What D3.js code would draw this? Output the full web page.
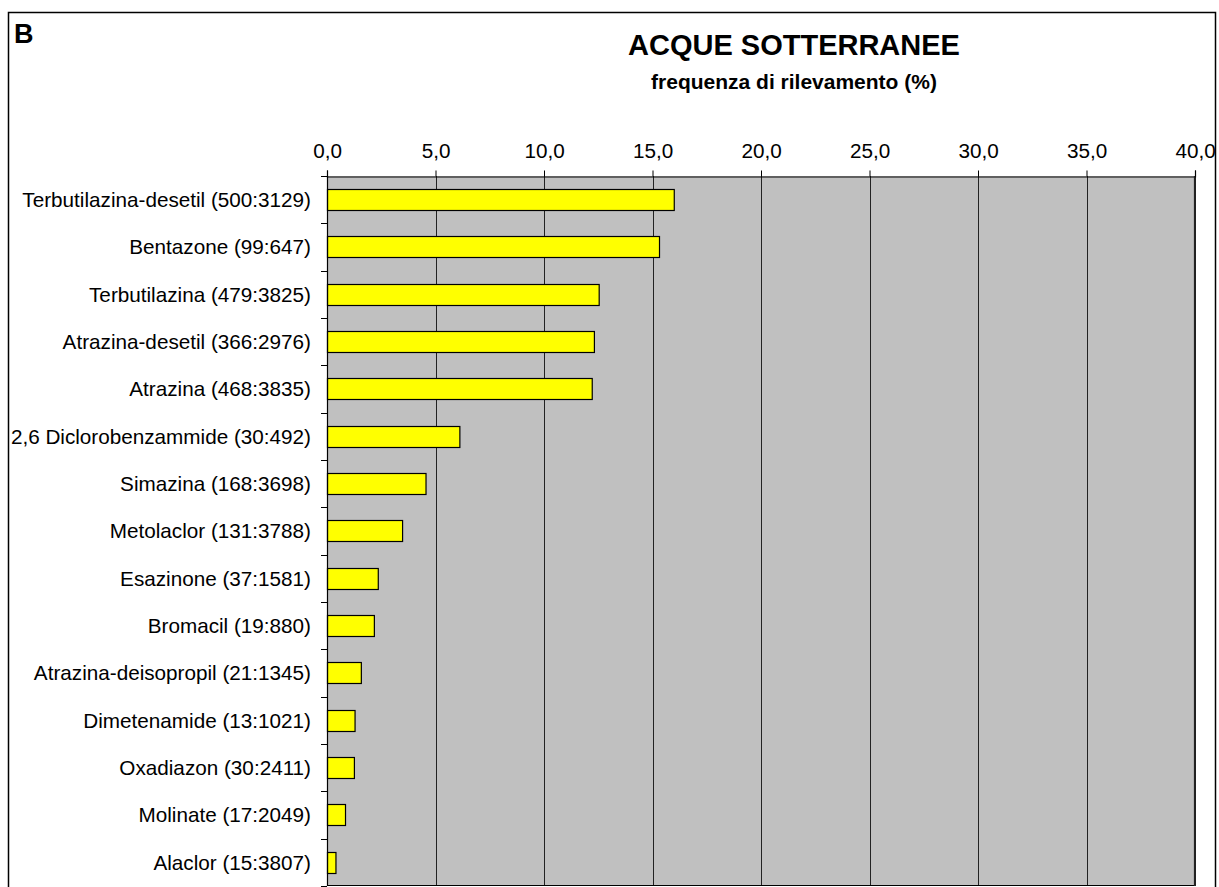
<!DOCTYPE html>
<html>
<head>
<meta charset="utf-8">
<script src="https://cdn.jsdelivr.net/npm/d3@7"></script>
<style>
  body { margin: 0; background: #fff; }
  svg text { font-family: Arial, "Liberation Sans", sans-serif; }
</style>
</head>
<body>
<div id="chart"></div>
<script>
var width = 1219,
    height = 887;

// categories and detection frequency (%)
var substances = [
  "Terbutilazina-desetil (500:3129)",
  "Bentazone (99:647)",
  "Terbutilazina (479:3825)",
  "Atrazina-desetil (366:2976)",
  "Atrazina (468:3835)",
  "2,6 Diclorobenzammide (30:492)",
  "Simazina (168:3698)",
  "Metolaclor (131:3788)",
  "Esazinone (37:1581)",
  "Bromacil (19:880)",
  "Atrazina-deisopropil (21:1345)",
  "Dimetenamide (13:1021)",
  "Oxadiazon (30:2411)",
  "Molinate (17:2049)",
  "Alaclor (15:3807)"
];
var frequency = [15.98, 15.30, 12.52, 12.30, 12.20, 6.10, 4.54, 3.46, 2.34, 2.16, 1.56, 1.27, 1.24, 0.83, 0.39];
var tickValues = [0, 5, 10, 15, 20, 25, 30, 35, 40];

var plot = {left: 327, right: 1195, top: 176, bottom: 886};

var svg = d3.select("#chart").append("svg")
    .attr("width", width)
    .attr("height", height);

// outer frame
svg.append("rect")
    .attr("x", 8.5).attr("y", 12.5)
    .attr("width", 1207).attr("height", 900)
    .attr("fill", "none")
    .attr("stroke", "#000")
    .attr("stroke-width", 1.5);

svg.append("text")
    .attr("x", 14).attr("y", 43)
    .style("font-size", "27px").style("font-weight", "bold")
    .text("B");

svg.append("text")
    .attr("x", 794).attr("y", 55)
    .attr("text-anchor", "middle")
    .style("font-size", "29px").style("font-weight", "bold")
    .text("ACQUE SOTTERRANEE");

svg.append("text")
    .attr("x", 794).attr("y", 89)
    .attr("text-anchor", "middle")
    .style("font-size", "21px").style("font-weight", "bold")
    .text("frequenza di rilevamento (%)");

var x = d3.scaleLinear()
    .domain([0, 40])
    .range([plot.left, plot.right]);

var y = d3.scaleBand()
    .domain(substances)
    .range([plot.top, plot.bottom])
    .paddingInner(0.556)
    .paddingOuter(0.278);

var data = substances.map(function(s, i) { return {name: s, value: frequency[i]}; });

// plot background
svg.append("rect")
    .attr("x", plot.left).attr("y", plot.top)
    .attr("width", plot.right - plot.left)
    .attr("height", plot.bottom - plot.top)
    .attr("fill", "#c0c0c0");

// vertical gridlines
svg.append("g")
    .selectAll("line")
    .data(tickValues)
    .enter().append("line")
    .attr("x1", function(d) { return Math.round(x(d)) + 0.5; })
    .attr("x2", function(d) { return Math.round(x(d)) + 0.5; })
    .attr("y1", plot.top)
    .attr("y2", plot.bottom)
    .attr("stroke", "#222")
    .attr("stroke-width", 1);

// bars
svg.append("g")
    .selectAll("rect")
    .data(data)
    .enter().append("rect")
    .attr("x", x(0) + 0.5)
    .attr("y", function(d) { return Math.round(y(d.name)) + 0.5; })
    .attr("width", function(d) { return x(d.value) - x(0); })
    .attr("height", Math.round(y.bandwidth()))
    .attr("fill", "#ffff00")
    .attr("stroke", "#000")
    .attr("stroke-width", 1.2);

// top axis
var xAxis = d3.axisTop(x)
    .tickValues(tickValues)
    .tickSize(6)
    .tickFormat(function(d) { return d3.format(".1f")(d).replace(".", ","); });

var gx = svg.append("g")
    .attr("transform", "translate(0," + (plot.top + 0.5) + ")")
    .call(xAxis);
gx.select(".domain").attr("stroke", "#000").attr("stroke-width", 1.2);
gx.selectAll(".tick line").attr("stroke", "#000");
gx.selectAll(".tick text")
    .attr("y", -19)
    .attr("fill", "#000")
    .style("font-size", "20.7px")
    .style("font-family", "Arial, 'Liberation Sans', sans-serif");

// left axis line and category separators
svg.append("line")
    .attr("x1", plot.left + 0.5).attr("x2", plot.left + 0.5)
    .attr("y1", plot.top).attr("y2", plot.bottom)
    .attr("stroke", "#000").attr("stroke-width", 1.2);

svg.append("line")
    .attr("x1", plot.left).attr("x2", plot.right)
    .attr("y1", plot.bottom - 0.5).attr("y2", plot.bottom - 0.5)
    .attr("stroke", "#000").attr("stroke-width", 1.2);

svg.append("line")
    .attr("x1", plot.right - 0.5).attr("x2", plot.right - 0.5)
    .attr("y1", plot.top).attr("y2", plot.bottom)
    .attr("stroke", "#222").attr("stroke-width", 1.2);

var step = y.step();
svg.append("g")
    .selectAll("line")
    .data(d3.range(substances.length + 1))
    .enter().append("line")
    .attr("x1", plot.left - 6).attr("x2", plot.left)
    .attr("y1", function(i) { return Math.round(plot.top + i * step) + 0.5; })
    .attr("y2", function(i) { return Math.round(plot.top + i * step) + 0.5; })
    .attr("stroke", "#000");

// category labels
svg.append("g")
    .selectAll("text")
    .data(substances)
    .enter().append("text")
    .attr("x", plot.left - 16)
    .attr("y", function(d) { return y(d) + y.bandwidth() / 2; })
    .attr("dy", "0.35em")
    .attr("text-anchor", "end")
    .style("font-size", "20.7px")
    .text(function(d) { return d; });
</script>
</body>
</html>
